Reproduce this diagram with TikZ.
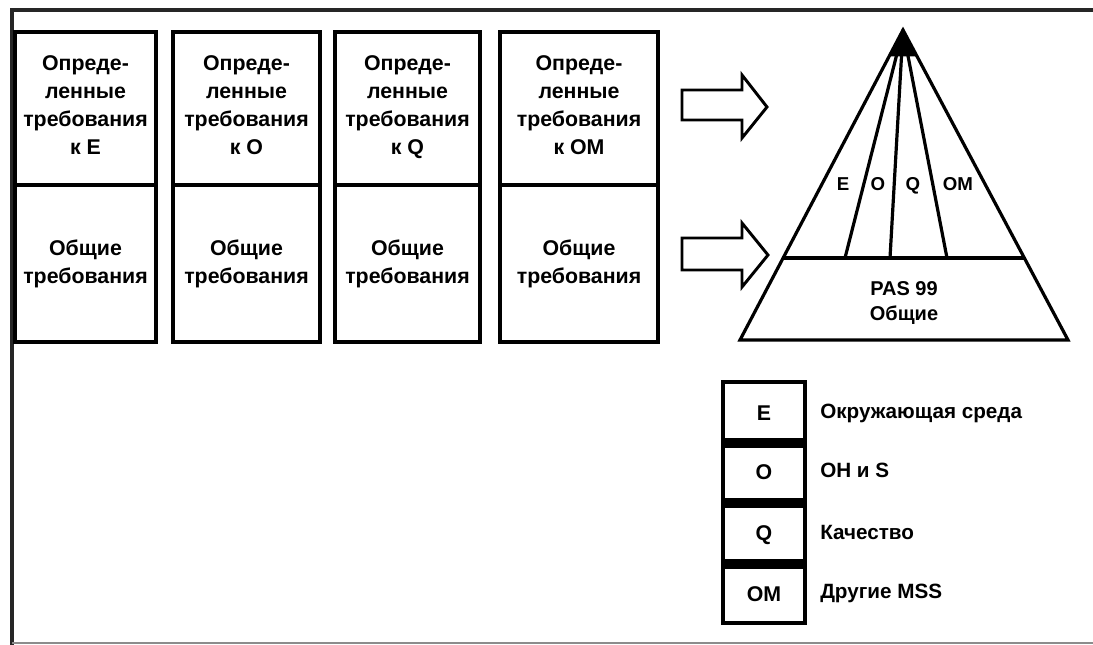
\documentclass[tikz,border=0pt]{standalone}
\usepackage{fontspec}
\setmainfont{Liberation Sans}
\usetikzlibrary{calc}
\begin{document}
\begin{tikzpicture}[x=0.75pt,y=-0.75pt,line join=miter]
\tikzset{
  cell/.style={draw, line width=2.6pt, rectangle, inner sep=0pt},
  txt/.style={font=\bfseries\fontsize{16}{21}\selectfont, align=center, inner sep=0pt},
  pyr/.style={line width=2.4pt},
  blockarrow/.style={draw, line width=2.2pt, fill=white},
  plabel/.style={font=\bfseries\fontsize{14}{16}\selectfont, inner sep=0pt, text height=1.6ex, text depth=0.4ex},
  legtxt/.style={font=\bfseries\fontsize{15.5}{18}\selectfont, anchor=west, inner sep=0pt},
  legbox/.style={font=\bfseries\fontsize{16}{18}\selectfont, inner sep=0pt, text height=1.6ex, text depth=0.4ex},
}
\useasboundingbox (0,0) rectangle (1093,645);
\fill[white] (0,0) rectangle (1093,645);
% frame
\draw[line width=2.4pt, black!85] (12,645) -- (12,10) -- (1093,10);
\draw[line width=1pt, black!45] (12,643) -- (1093,643);
% requirement boxes
\foreach \i/\xl/\xr/\k in {1/15/156/E, 2/173/320/O, 3/335/480/Q, 4/500/658/OM} {
  \node[cell, minimum width={(\xr-\xl)*0.75pt}, minimum height=114.75pt] (u\i) at ({(\xl+\xr)/2},108.5) {};
  \node[cell, minimum width={(\xr-\xl)*0.75pt}, minimum height=117.75pt] (l\i) at ({(\xl+\xr)/2},263.5) {};
  \node[txt, anchor=north] (ut\i) at ($(u\i.north)+(0,25)$) {Опреде-\\ленные\\требования\\к \k};
  \node[txt] (lt\i) at (l\i) {Общие\\требования};
}
% block arrows
\coordinate (a1) at (682,105);
\coordinate (a2) at (682,254);
\draw[blockarrow] ($(a1)+(0,-15)$) -- ++(60,0) -- ++(0,-15) -- ($(a1)+(85,2)$) -- ($(a1)+(60,33)$) -- ++(0,-18) -- ($(a1)+(0,15)$) -- cycle;
\draw[blockarrow] ($(a2)+(0,-16)$) -- ++(60,0) -- ++(0,-15) -- ($(a2)+(86,1)$) -- ($(a2)+(60,33)$) -- ++(0,-17) -- ($(a2)+(0,16)$) -- cycle;
% pyramid
\coordinate (apex) at (903,30);
\coordinate (bl) at (740,340);
\coordinate (br) at (1068,340);
\coordinate (ml) at ($(apex)!0.7355!(bl)$);
\coordinate (mr) at ($(apex)!0.7355!(br)$);
\coordinate (s1) at (845,258);
\coordinate (s2) at (890,258);
\coordinate (s3) at (947,258);
\draw[pyr] (apex) -- (bl) -- (br) -- cycle;
\draw[pyr] (ml) -- (mr);
\draw[pyr] (apex) -- (s1);
\draw[pyr] (apex) -- (s2);
\draw[pyr] (apex) -- (s3);
\fill (apex) -- ($(apex)!0.085!(bl)$) -- ($(apex)!0.085!(br)$) -- cycle;
\node[plabel] (pE) at (843,186) {E};
\node[plabel] (pO) at (878,186) {O};
\node[plabel] (pQ) at (913,186) {Q};
\node[plabel] (pOM) at (958,186) {OM};
\node[txt, font=\bfseries\fontsize{15}{19}\selectfont] (pas) at (904,303) {PAS 99\\Общие};
% legend
\draw[line width=2.6pt] (723,382) rectangle (805,623);
\draw[line width=7pt] (723,443) -- (805,443);
\draw[line width=7pt] (723,503) -- (805,503);
\draw[line width=7pt] (723,564) -- (805,564);
\node[legbox] (kE) at (764,416) {E};
\node[legbox] (kO) at (764,475) {O};
\node[legbox] (kQ) at (764,536) {Q};
\node[legbox] (kOM) at (764,597) {OM};
\node[legtxt] (dE) at (820,413) {Окружающая среда};
\node[legtxt] (dO) at (820,470) {OH и S};
\node[legtxt] (dQ) at (820,532) {Качество};
\node[legtxt] (dOM) at (820,593) {Другие MSS};
\end{tikzpicture}
\end{document}
